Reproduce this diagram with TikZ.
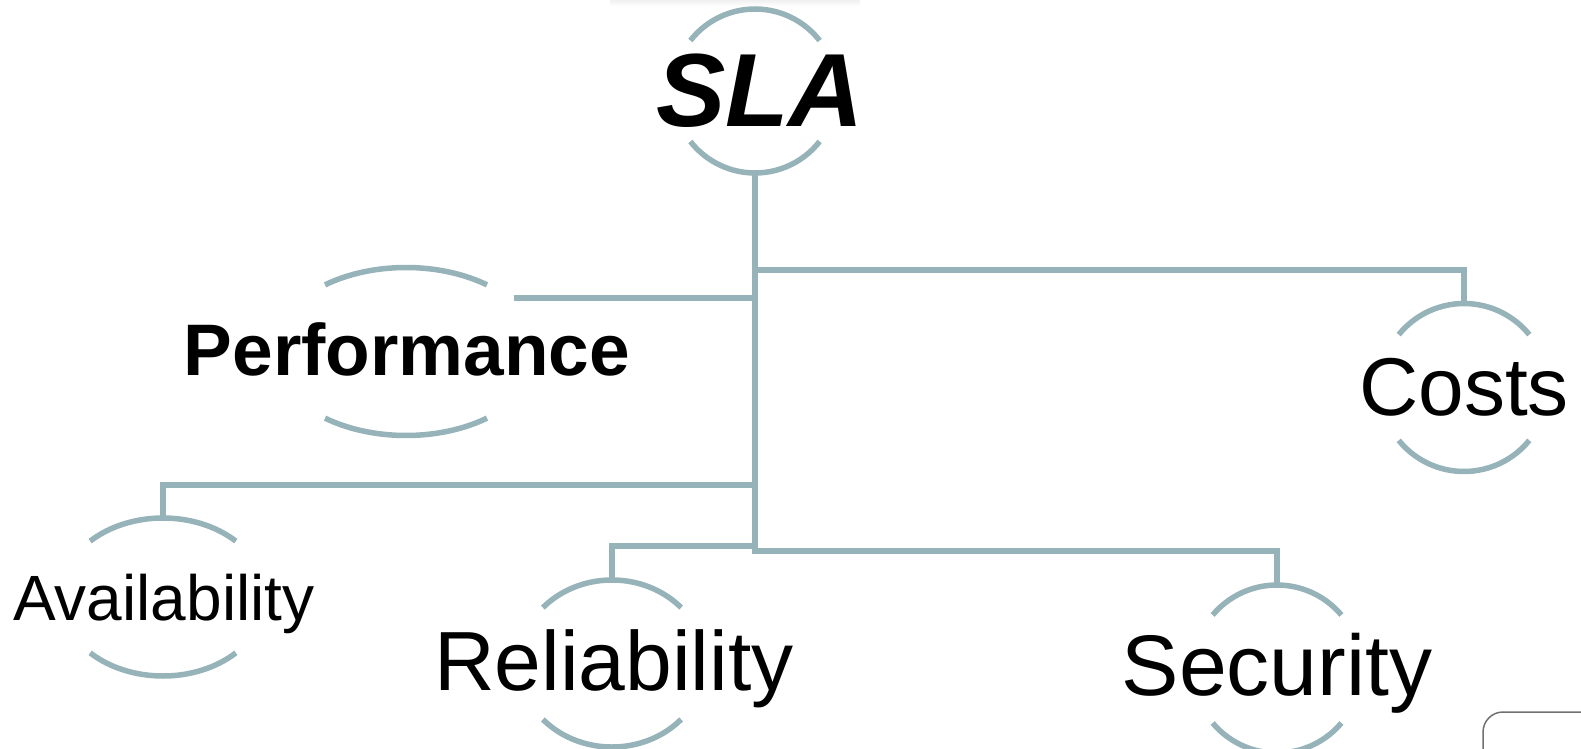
\documentclass[tikz,border=0pt]{standalone}
\usepackage{fontspec}
\setmainfont{Liberation Sans}
\definecolor{lineC}{RGB}{149,179,184}
\definecolor{boxC}{RGB}{112,112,112}
\newcommand\pairarcs[4]{%
  \draw[arcline] (#1) ++({180+#4}:#2 and #3) arc[start angle={180+#4}, end angle={360-#4}, x radius=#2, y radius=#3];
  \draw[arcline] (#1) ++(#4:#2 and #3) arc[start angle=#4, end angle={180-#4}, x radius=#2, y radius=#3];}
\begin{document}
\begin{tikzpicture}[x=1pt,y=-1pt,
  conn/.style={draw=lineC, line width=5.5pt},
  arcline/.style={draw=lineC, line width=5.5pt},
  lbl/.style={anchor=base, inner sep=0pt, text=black}]
\useasboundingbox (0,0) rectangle (1581,749);
\clip (0,0) rectangle (1581,749);
\shade[top color=black!6, bottom color=white] (610,0) rectangle (860,6);

% labels
\node[lbl, font=\fontsize{104}{104}\selectfont\bfseries\itshape] (sla) at (760,127) {SLA};
\node[lbl, font=\fontsize{73}{73}\selectfont\bfseries] (perf) at (407,375) {Performance};
\node[lbl, font=\fontsize{82}{82}\selectfont] (costs) at (1464,415) {Costs};
\node[lbl, font=\fontsize{64}{64}\selectfont] (avail) at (164,620) {Availability};
\node[lbl, font=\fontsize{84}{84}\selectfont] (rel) at (614,690) {Reliability};
\node[lbl, font=\fontsize{86}{86}\selectfont] (sec) at (1277,695) {Security};

% arc centres
\coordinate (slaC) at (755,91);
\coordinate (perfC) at (406,351.5);
\coordinate (costC) at (1464,387.5);
\coordinate (availC) at (163,597);
\coordinate (relC) at (612,663.5);
\coordinate (secC) at (1277,669);

\pairarcs{slaC}{82}{82}{38}
\pairarcs{perfC}{133}{84}{52.5}
\pairarcs{costC}{84}{84}{39}
\pairarcs{availC}{103}{79}{45}
\pairarcs{relC}{93}{83.5}{42}
\pairarcs{secC}{84}{84}{40}

% connector points
\coordinate (slaB) at (755,173);
\coordinate (jCost) at (755,270);
\coordinate (jPerf) at (755,298);
\coordinate (jAvail) at (755,485);
\coordinate (jRel) at (755,546);
\coordinate (jSec) at (755,551);
\coordinate (costT) at (1464,303.5);
\coordinate (perfR) at (514,298);
\coordinate (availT) at (163,518);
\coordinate (relT) at (612,580);
\coordinate (secT) at (1277,585);

\draw[conn] (slaB) -- (jSec) -| (secT);
\draw[conn] (jCost) -| (costT);
\draw[conn] (perfR) -- (jPerf);
\draw[conn] (jAvail) -| (availT);
\draw[conn] (jRel) -| (relT);

% partial box at bottom right
\draw[boxC, line width=1.5pt, rounded corners=20pt] (1483,770) -- (1483,712) -- (1620,712);
\fill[red] (1571,753) circle (4);
\end{tikzpicture}
\end{document}
